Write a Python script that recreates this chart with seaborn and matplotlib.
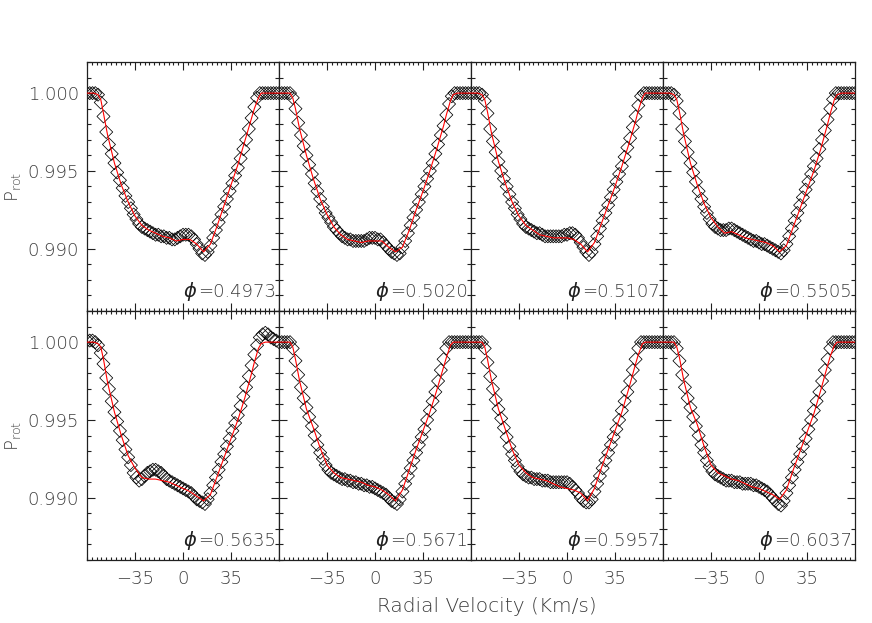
import numpy as np
import matplotlib
matplotlib.use("Agg")
import matplotlib.pyplot as plt
import seaborn as sns
from matplotlib.ticker import MultipleLocator

# rotational phase of each panel
phases = ["0.4973", "0.5020", "0.5107", "0.5505",
          "0.5635", "0.5671", "0.5957", "0.6037"]

# velocity grids (km/s) of the observed profiles and of the fits
vel_obs = np.arange(-70, 71, 2)
vel_fit = [-70, -65, -62, -60, -58, -55, -50, -45, -40, -35, -30, -25, -20, -15, -10, -5, 0,
           5, 10, 15, 20, 25, 30, 35, 40, 45, 50, 52, 55, 57, 60, 65, 70]

# observed profiles (diamonds), one list per phase, -70 .. 70 km/s
obs_4973 = [1.0000, 1.0000, 1.0000, 1.0000, 0.9999, 0.9994, 0.9985, 0.9975, 0.9967, 0.9961, 0.9955, 0.9949, 0.9944,
            0.9939, 0.9934, 0.9930, 0.9926, 0.9922, 0.9919, 0.9916, 0.9914, 0.9913, 0.9912, 0.9911, 0.9910,
            0.9909, 0.9909, 0.9908, 0.9908, 0.9907, 0.9907, 0.9906, 0.9906, 0.9907, 0.9908, 0.9909, 0.9909,
            0.9909, 0.9908, 0.9906, 0.9903, 0.9900, 0.9897, 0.9896, 0.9898,
            0.9902, 0.9907, 0.9912, 0.9917, 0.9922, 0.9927, 0.9932, 0.9937, 0.9942, 0.9947, 0.9952, 0.9958,
            0.9964, 0.9970, 0.9977, 0.9984, 0.9991, 0.9997, 1.0000, 1.0000, 1.0000, 1.0000, 1.0000, 1.0000,
            1.0000, 1.0000]
obs_5020 = [1.0000, 1.0000, 1.0000, 1.0000, 1.0000, 0.9997, 0.9990, 0.9981, 0.9973, 0.9966, 0.9960, 0.9954, 0.9948,
            0.9942, 0.9937, 0.9932, 0.9927, 0.9923, 0.9920, 0.9917, 0.9914, 0.9912, 0.9910, 0.9908, 0.9907,
            0.9906, 0.9906, 0.9905, 0.9905, 0.9905, 0.9905, 0.9905, 0.9906, 0.9907, 0.9907, 0.9907, 0.9906,
            0.9906, 0.9904, 0.9902, 0.9900, 0.9898, 0.9897, 0.9896, 0.9897,
            0.9901, 0.9905, 0.9910, 0.9915, 0.9920, 0.9925, 0.9930, 0.9935, 0.9940, 0.9945, 0.9950, 0.9955,
            0.9961, 0.9967, 0.9973, 0.9979, 0.9986, 0.9993, 0.9998, 1.0000, 1.0000, 1.0000, 1.0000, 1.0000,
            1.0000, 1.0000]
obs_5107 = [1.0000, 1.0000, 1.0000, 1.0000, 0.9999, 0.9995, 0.9987, 0.9977, 0.9969, 0.9962, 0.9956, 0.9950, 0.9945,
            0.9940, 0.9935, 0.9930, 0.9926, 0.9922, 0.9919, 0.9916, 0.9914, 0.9913, 0.9912, 0.9911, 0.9910,
            0.9910, 0.9909, 0.9908, 0.9908, 0.9908, 0.9908, 0.9908, 0.9908, 0.9908, 0.9909, 0.9909, 0.9910,
            0.9910, 0.9909, 0.9907, 0.9904, 0.9901, 0.9898, 0.9896, 0.9898,
            0.9903, 0.9908, 0.9913, 0.9918, 0.9923, 0.9928, 0.9933, 0.9938, 0.9943, 0.9948, 0.9953, 0.9959,
            0.9965, 0.9971, 0.9978, 0.9985, 0.9992, 0.9998, 1.0000, 1.0000, 1.0000, 1.0000, 1.0000, 1.0000,
            1.0000, 1.0000]
obs_5505 = [1.0000, 1.0000, 1.0000, 1.0000, 0.9999, 0.9995, 0.9987, 0.9977, 0.9969, 0.9962, 0.9955, 0.9949, 0.9943,
            0.9937, 0.9932, 0.9927, 0.9923, 0.9919, 0.9916, 0.9914, 0.9913, 0.9912, 0.9912, 0.9912, 0.9913,
            0.9913, 0.9912, 0.9911, 0.9910, 0.9909, 0.9908, 0.9907, 0.9906, 0.9905, 0.9905, 0.9904, 0.9903,
            0.9903, 0.9902, 0.9901, 0.9900, 0.9899, 0.9898, 0.9897, 0.9899,
            0.9903, 0.9908, 0.9913, 0.9918, 0.9923, 0.9928, 0.9933, 0.9938, 0.9943, 0.9948, 0.9953, 0.9958,
            0.9964, 0.9970, 0.9976, 0.9983, 0.9990, 0.9996, 1.0000, 1.0000, 1.0000, 1.0000, 1.0000, 1.0000,
            1.0000, 1.0000]
obs_5635 = [1.0001, 1.0001, 1.0001, 1.0000, 0.9998, 0.9993, 0.9986, 0.9977, 0.9970, 0.9962, 0.9955, 0.9949, 0.9943,
            0.9937, 0.9931, 0.9926, 0.9921, 0.9916, 0.9913, 0.9911, 0.9912, 0.9914, 0.9916, 0.9917, 0.9918,
            0.9918, 0.9917, 0.9916, 0.9914, 0.9912, 0.9911, 0.9910, 0.9909, 0.9908, 0.9907, 0.9906, 0.9905,
            0.9904, 0.9903, 0.9901, 0.9899, 0.9898, 0.9897, 0.9896, 0.9899,
            0.9903, 0.9908, 0.9913, 0.9918, 0.9923, 0.9928, 0.9933, 0.9938, 0.9943, 0.9948, 0.9953, 0.9959,
            0.9965, 0.9971, 0.9978, 0.9985, 0.9992, 0.9998, 1.0003, 1.0005, 1.0006, 1.0005, 1.0003, 1.0002,
            1.0001, 1.0000]
obs_5671 = [1.0000, 1.0000, 1.0000, 1.0000, 1.0000, 0.9996, 0.9988, 0.9979, 0.9971, 0.9964, 0.9958, 0.9952, 0.9946,
            0.9940, 0.9934, 0.9929, 0.9925, 0.9921, 0.9918, 0.9916, 0.9915, 0.9914, 0.9913, 0.9912, 0.9912,
            0.9911, 0.9911, 0.9910, 0.9910, 0.9909, 0.9909, 0.9908, 0.9908, 0.9907, 0.9907, 0.9906, 0.9905,
            0.9904, 0.9903, 0.9902, 0.9900, 0.9898, 0.9897, 0.9896, 0.9899,
            0.9904, 0.9909, 0.9914, 0.9919, 0.9924, 0.9929, 0.9934, 0.9939, 0.9944, 0.9950, 0.9956, 0.9962,
            0.9968, 0.9975, 0.9982, 0.9989, 0.9996, 1.0000, 1.0000, 1.0000, 1.0000, 1.0000, 1.0000, 1.0000,
            1.0000, 1.0000]
obs_5957 = [1.0000, 1.0000, 1.0000, 1.0000, 1.0000, 0.9996, 0.9987, 0.9978, 0.9970, 0.9963, 0.9957, 0.9951, 0.9945,
            0.9939, 0.9933, 0.9928, 0.9924, 0.9920, 0.9917, 0.9915, 0.9914, 0.9913, 0.9913, 0.9912, 0.9912,
            0.9912, 0.9911, 0.9911, 0.9911, 0.9910, 0.9910, 0.9910, 0.9910, 0.9910, 0.9910, 0.9910, 0.9909,
            0.9907, 0.9905, 0.9903, 0.9900, 0.9898, 0.9897, 0.9897, 0.9899,
            0.9904, 0.9909, 0.9914, 0.9919, 0.9924, 0.9929, 0.9934, 0.9939, 0.9944, 0.9950, 0.9956, 0.9962,
            0.9968, 0.9975, 0.9982, 0.9989, 0.9996, 1.0000, 1.0000, 1.0000, 1.0000, 1.0000, 1.0000, 1.0000,
            1.0000, 1.0000]
obs_6037 = [1.0000, 1.0000, 1.0000, 1.0000, 1.0000, 0.9996, 0.9988, 0.9979, 0.9971, 0.9964, 0.9958, 0.9952, 0.9946,
            0.9940, 0.9934, 0.9929, 0.9924, 0.9920, 0.9917, 0.9915, 0.9914, 0.9913, 0.9912, 0.9911, 0.9911,
            0.9911, 0.9910, 0.9910, 0.9910, 0.9909, 0.9909, 0.9909, 0.9909, 0.9908, 0.9908, 0.9907, 0.9906,
            0.9905, 0.9904, 0.9902, 0.9900, 0.9898, 0.9896, 0.9895, 0.9898,
            0.9903, 0.9908, 0.9913, 0.9918, 0.9923, 0.9928, 0.9933, 0.9938, 0.9944, 0.9950, 0.9956, 0.9962,
            0.9968, 0.9975, 0.9982, 0.9989, 0.9996, 1.0000, 1.0000, 1.0000, 1.0000, 1.0000, 1.0000, 1.0000,
            1.0000, 1.0000]

# model fits (red line), on vel_fit
fit_4973 = [1.0000, 1.0000, 0.9999, 0.9996, 0.9987, 0.9973, 0.9955, 0.9941, 0.9930, 0.9921, 0.9915, 0.9912, 0.9910,
            0.9908, 0.9907, 0.9905, 0.9906, 0.9906, 0.9903, 0.9898, 0.9903, 0.9915, 0.9928, 0.9941, 0.9954,
            0.9969, 0.9984, 0.9990, 0.9997, 1.0000, 1.0000, 1.0000, 1.0000]
fit_5020 = [1.0000, 1.0000, 1.0000, 0.9997, 0.9990, 0.9977, 0.9960, 0.9945, 0.9932, 0.9922, 0.9914, 0.9909, 0.9906,
            0.9905, 0.9904, 0.9905, 0.9905, 0.9905, 0.9901, 0.9898, 0.9901, 0.9912, 0.9925, 0.9937, 0.9950,
            0.9964, 0.9979, 0.9986, 0.9995, 0.9999, 1.0000, 1.0000, 1.0000]
fit_5107 = [1.0000, 1.0000, 0.9999, 0.9996, 0.9988, 0.9974, 0.9956, 0.9942, 0.9930, 0.9921, 0.9915, 0.9912, 0.9909,
            0.9908, 0.9907, 0.9907, 0.9907, 0.9906, 0.9903, 0.9898, 0.9904, 0.9916, 0.9928, 0.9940, 0.9953,
            0.9967, 0.9982, 0.9989, 0.9997, 1.0000, 1.0000, 1.0000, 1.0000]
fit_5505 = [1.0000, 1.0000, 0.9999, 0.9996, 0.9988, 0.9974, 0.9955, 0.9941, 0.9929, 0.9920, 0.9914, 0.9910, 0.9911,
            0.9909, 0.9907, 0.9906, 0.9905, 0.9904, 0.9902, 0.9898, 0.9902, 0.9914, 0.9926, 0.9938, 0.9950,
            0.9964, 0.9980, 0.9987, 0.9996, 0.9999, 1.0000, 1.0000, 1.0000]
fit_5635 = [1.0000, 1.0000, 0.9999, 0.9997, 0.9989, 0.9974, 0.9955, 0.9940, 0.9927, 0.9919, 0.9913, 0.9912, 0.9912,
            0.9911, 0.9910, 0.9908, 0.9906, 0.9904, 0.9901, 0.9898, 0.9902, 0.9914, 0.9926, 0.9938, 0.9950,
            0.9964, 0.9980, 0.9987, 0.9996, 0.9999, 1.0000, 1.0000, 1.0000]
fit_5671 = [1.0000, 1.0000, 1.0000, 0.9997, 0.9989, 0.9975, 0.9957, 0.9945, 0.9932, 0.9921, 0.9916, 0.9913, 0.9912,
            0.9911, 0.9910, 0.9908, 0.9907, 0.9905, 0.9902, 0.9898, 0.9905, 0.9918, 0.9931, 0.9943, 0.9955,
            0.9969, 0.9984, 0.9990, 0.9998, 1.0000, 1.0000, 1.0000, 1.0000]
fit_5957 = [1.0000, 1.0000, 1.0000, 0.9997, 0.9989, 0.9975, 0.9957, 0.9944, 0.9931, 0.9921, 0.9916, 0.9913, 0.9912,
            0.9911, 0.9909, 0.9907, 0.9906, 0.9905, 0.9903, 0.9898, 0.9906, 0.9919, 0.9931, 0.9943, 0.9955,
            0.9970, 0.9986, 0.9992, 0.9999, 1.0000, 1.0000, 1.0000, 1.0000]
fit_6037 = [1.0000, 1.0000, 1.0000, 0.9997, 0.9990, 0.9976, 0.9958, 0.9947, 0.9933, 0.9921, 0.9916, 0.9914, 0.9912,
            0.9911, 0.9909, 0.9907, 0.9906, 0.9904, 0.9902, 0.9899, 0.9905, 0.9918, 0.9930, 0.9942, 0.9954,
            0.9969, 0.9985, 0.9991, 0.9998, 1.0000, 1.0000, 1.0000, 1.0000]

observed = [obs_4973, obs_5020, obs_5107, obs_5505, obs_5635, obs_5671, obs_5957, obs_6037]
fitted = [fit_4973, fit_5020, fit_5107, fit_5505, fit_5635, fit_5671, fit_5957, fit_6037]

sns.set_style("ticks")
plt.rcParams["font.family"] = ["DejaVu Sans"]
plt.rcParams["font.weight"] = "light"
text_col = "#3c3c3c"

fig, axes = plt.subplots(2, 4, figsize=(8.72, 6.23), dpi=100, sharex=True, sharey=True)
fig.subplots_adjust(left=0.0998, right=0.9805, top=0.9005, bottom=0.1011, wspace=0, hspace=0)

labels = []
for ax, obs, fit, ph in zip(axes.flat, observed, fitted, phases):
    sns.scatterplot(x=vel_obs, y=obs, ax=ax, marker="D", s=44, facecolors="none",
                    edgecolor="black", linewidth=0.55, zorder=2, legend=False)
    sns.lineplot(x=vel_fit, y=fit, ax=ax, color="red", linewidth=0.8, errorbar=None, zorder=3)
    ax.set_xlim(-70, 70)
    ax.set_ylim(0.986, 1.002)
    ax.set_xticks([-35, 0, 35])
    ax.xaxis.set_minor_locator(MultipleLocator(3.5))
    ax.set_yticks([0.990, 0.995, 1.000])
    ax.yaxis.set_minor_locator(MultipleLocator(0.001))
    ax.set_yticklabels(["0.990", "0.995", "1.000"])
    ax.tick_params(which="both", direction="in", top=True, right=True, colors="#202020",
                   labelcolor=text_col, labelsize=13, width=0.8)
    ax.tick_params(which="major", length=6)
    ax.tick_params(axis="y", which="minor", length=3)
    ax.tick_params(axis="x", which="minor", length=2)
    ax.tick_params(axis="x", pad=7)
    ax.tick_params(axis="y", pad=6)
    for sp in ax.spines.values():
        sp.set_color("#202020")
        sp.set_linewidth(0.9)
    ax.set_xlabel("")
    ax.set_ylabel("")
    t = ax.text(0.985, 0.056, "=" + ph, transform=ax.transAxes, ha="right", va="baseline",
                fontsize=13, color=text_col)
    labels.append((ax, t))

# put the phi symbol just in front of each phase number
fig.canvas.draw()
renderer = fig.canvas.get_renderer()
for ax, t in labels:
    bb = t.get_window_extent(renderer)
    x0 = ax.transAxes.inverted().transform((bb.x0, bb.y0))[0]
    ax.text(x0 - 0.006, 0.056, r"$\phi$", transform=ax.transAxes, ha="right", va="baseline",
            fontsize=14, color="#202020")

for yc in [0.7005, 0.3008]:
    fig.text(0.015, yc, r"$\mathregular{P_{rot}}$", rotation=90, ha="center", va="center",
             fontsize=13, color=text_col)
fig.text(0.5585, 0.026, "Radial Velocity (Km/s)", ha="center", va="center",
         fontsize=14.5, color=text_col)

fig.savefig("out.png", dpi=100)
